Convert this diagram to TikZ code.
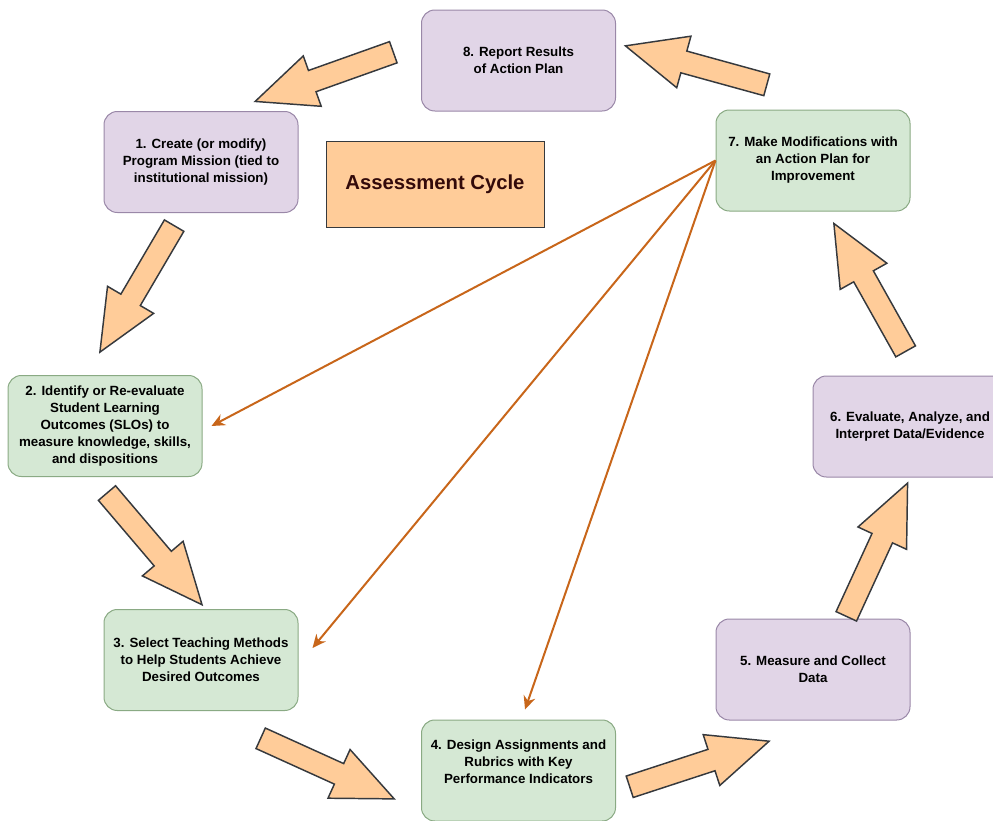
\documentclass[tikz,border=0pt]{standalone}
\usepackage{fontspec}
\setmainfont{Liberation Sans}
\usetikzlibrary{shapes.arrows,arrows.meta}

\definecolor{planfill}{HTML}{E1D5E7}
\definecolor{planline}{HTML}{9A88A8}
\definecolor{actfill}{HTML}{D5E8D4}
\definecolor{actline}{HTML}{8AAA84}
\definecolor{arrowfill}{HTML}{FFCC99}
\definecolor{arrowline}{HTML}{36393D}
\definecolor{titletext}{HTML}{330A0A}
\definecolor{feedcolor}{HTML}{C8661A}

\begin{document}
\begin{tikzpicture}[x=0.75pt,y=-0.75pt]
    \tikzstyle{stepbox} = [rectangle,rounded corners=10pt,line width=0.75pt,
    font=\fontsize{10}{12.75}\selectfont\bfseries,align=center,
    minimum width=145.5pt,minimum height=75.75pt,inner sep=0pt];
    \tikzstyle{plan} = [stepbox,fill=planfill,draw=planline];
    \tikzstyle{act} = [stepbox,fill=actfill,draw=actline];
    \tikzstyle{bigarrow} = [single arrow,draw=arrowline,fill=arrowfill,
    line width=1.1pt,minimum height=110pt,inner sep=7.9pt,
    single arrow head extend=11.6pt,single arrow tip angle=47.6,anchor=tail];
    \tikzstyle{feedback} = [draw=feedcolor,line width=1.5pt,
    -{Stealth[length=10pt,width=9pt]}];

    \useasboundingbox (0,0) rectangle (993,821);

    % cycle steps
    \node[plan,name=s8] at (518.5,60.5) {8. Report Results\\of Action Plan};
    \node[plan,name=s1] at (201,162) {1. Create (or modify)\\Program Mission (tied to\\institutional mission)};
    \node[act,name=s7] at (813,160.5) {7. Make Modifications with\\an Action Plan for\\Improvement};
    \node[act,name=s2] at (105,426) {2. Identify or Re-evaluate\\Student Learning\\Outcomes (SLOs) to\\measure knowledge, skills,\\and dispositions};
    \node[plan,name=s6] at (910,426.5) {6. Evaluate, Analyze, and\\Interpret Data/Evidence};
    \node[act,name=s3] at (201,660) {3. Select Teaching Methods\\to Help Students Achieve\\Desired Outcomes};
    \node[plan,name=s5] at (813,669.5) {5. Measure and Collect\\Data};
    \node[act,name=s4] at (518.5,770.5) {4. Design Assignments and\\Rubrics with Key\\Performance Indicators\\\mbox{}};

    \node[name=title,rectangle,draw=arrowline,fill=arrowfill,line width=0.75pt,
    minimum width=163.5pt,minimum height=64.5pt,text=titletext,
    font=\fontsize{15.2}{17}\selectfont\bfseries] at (435,184) {Assessment Cycle};

    % block arrows between steps
    \node[bigarrow,name=a81,rotate=199.6] at (394,52) {};
    \node[bigarrow,name=a12,rotate=239.6] at (174.5,225) {};
    \node[bigarrow,name=a23,rotate=310.4] at (106.5,492.5) {};
    \node[bigarrow,name=a34,rotate=335.6] at (260,738) {};
    \node[bigarrow,name=a45,rotate=18.1] at (629,787) {};
    \node[bigarrow,name=a56,rotate=65.3] at (846,617) {};
    \node[bigarrow,name=a67,rotate=119.3] at (906,352) {};
    \node[bigarrow,name=a78,rotate=164.6] at (767.5,85) {};

    % feedback from step 7
    \path (s7.west) edge[feedback] ([xshift=6.75pt]s2.east);
    \path (s7.west) edge[feedback] ([xshift=10.5pt,yshift=9pt]s3.east);
    \path (s7.west) edge[feedback] ([xshift=4.9pt,yshift=7.5pt]s4.north);

\end{tikzpicture}
\end{document}
